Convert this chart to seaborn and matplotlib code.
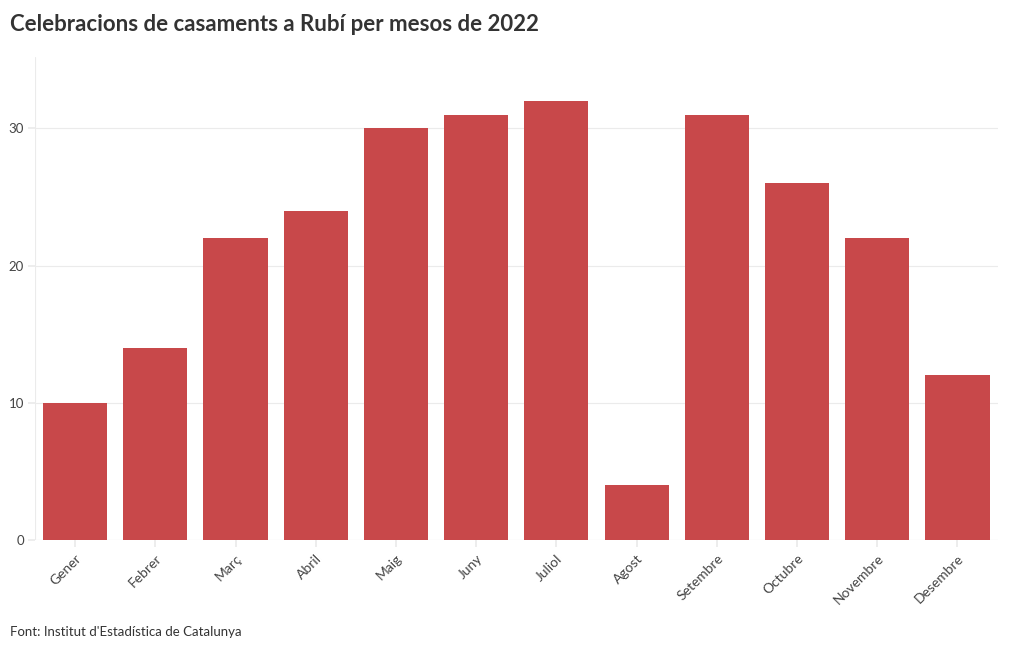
import matplotlib
matplotlib.use("Agg")
import matplotlib.pyplot as plt
import seaborn as sns
import pandas as pd

# dades: casaments per mes (Rubí, 2022)
mesos = ["Gener", "Febrer", "Març", "Abril", "Maig", "Juny",
         "Juliol", "Agost", "Setembre", "Octubre", "Novembre", "Desembre"]
casaments = [10, 14, 22, 24, 30, 31, 32, 4, 31, 26, 22, 12]
y_ticks = [0, 10, 20, 30]

df = pd.DataFrame({"mes": mesos, "casaments": casaments})

sns.set_theme(style="white")
plt.rcParams["font.family"] = ["Lato", "DejaVu Sans"]

fig = plt.figure(figsize=(10.2, 6.5), dpi=100)
ax = fig.add_axes([0.0343, 0.1692, 0.9437, 0.7431])

sns.barplot(data=df, x="mes", y="casaments", color="#C8484A",
            width=0.8, saturation=1, linewidth=0, ax=ax)

ax.set_xlim(-0.5, len(mesos) - 0.5)
ax.set_ylim(0, 35.2)
ax.set_yticks(y_ticks)
ax.set_xlabel("")
ax.set_ylabel("")

for s in ax.spines.values():
    s.set_visible(False)
ax.grid(axis="y", color="#ebebeb", linewidth=0.8)
ax.axvline(-0.5, color="#ebebeb", linewidth=0.8, zorder=0)
ax.axhline(0, color="#ebebeb", linewidth=0.8, zorder=0)
ax.set_axisbelow(True)

ax.tick_params(axis="y", length=5, color="#ebebeb", labelsize=9.5,
               labelcolor="#444444", pad=3)
ax.tick_params(axis="x", length=5, color="#ebebeb", labelsize=10,
               labelcolor="#444444", pad=4)
ax.tick_params(bottom=True, left=True)
plt.setp(ax.get_xticklabels(), rotation=45, ha="right", rotation_mode="anchor")

fig.text(0.0098, 0.962, "Celebracions de casaments a Rubí per mesos de 2022",
         fontsize=16, fontweight="bold", color="#333333", va="center")
fig.text(0.0098, 0.028, "Font: Institut d'Estadística de Catalunya",
         fontsize=9.5, color="#333333", va="center")

fig.savefig("out.png", dpi=100)
